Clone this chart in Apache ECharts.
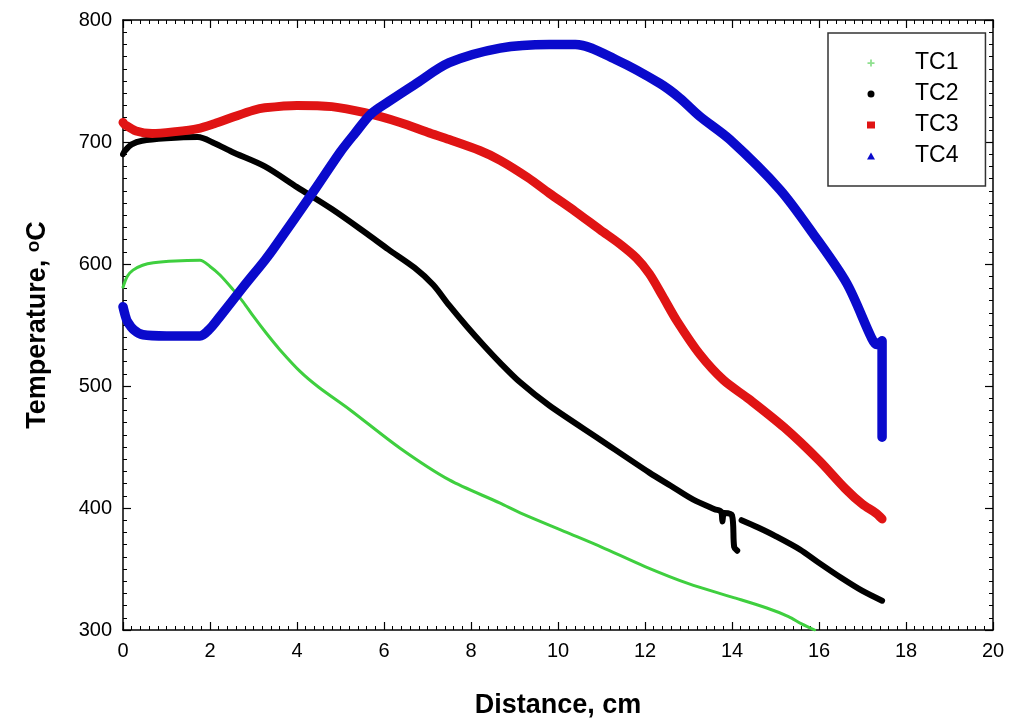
<!DOCTYPE html>
<html>
<head>
<meta charset="utf-8">
<script src="https://cdn.jsdelivr.net/npm/echarts@6/dist/echarts.min.js"></script>
<style>
  html, body { margin: 0; padding: 0; background: #fff; }
  #chart { width: 1020px; height: 727px; }
</style>
</head>
<body>
<div id="chart"></div>
<script>
// 数据：距离(cm) / 温度(°C)
var seriesNames = ['TC1', 'TC2', 'TC3', 'TC4'];
var seriesColors = ['#3fcf3f', '#000000', '#e01414', '#0a0acc'];

var tc1 = [[0, 581], [0.1, 590], [0.23, 595], [0.45, 599], [0.7, 601], [1.2, 602.5], [1.77, 603],
  [2.0, 598], [2.23, 591], [2.53, 579], [2.76, 569], [3.0, 557], [3.3, 543], [3.6, 530],
  [4.07, 512], [4.5, 499], [5.2, 481], [6.37, 449], [7.5, 423], [8.67, 404], [9.13, 396],
  [10.2, 380], [11.0, 368], [12.0, 352], [13.0, 338], [14.0, 327], [14.8, 318], [15.3, 311],
  [15.6, 305], [15.9, 300]];

var tc2 = [[0, 690], [0.05, 693], [0.2, 698], [0.44, 701], [1.0, 703], [1.72, 704], [2.1, 699],
  [2.5, 692], [3.26, 680], [4.0, 663], [4.8, 645], [5.56, 626], [6.1, 612], [6.7, 597],
  [7.13, 583], [7.5, 566], [7.9, 549], [8.3, 533], [8.67, 519], [9.13, 503], [9.8, 484],
  [10.97, 456], [12.1, 429], [12.6, 418], [13.1, 407], [13.6, 399], [13.75, 397], [13.78, 389],
  [13.82, 396], [14.0, 394], [14.05, 368], [14.12, 365], ['-', '-'],
  [14.22, 390], [14.6, 384], [15.0, 377], [15.56, 366], [16.0, 355], [16.5, 343],
  [17.0, 332], [17.45, 324]];

var tc3 = [[0, 716], [0.05, 714], [0.3, 709], [0.67, 707], [1.2, 708.5], [1.72, 711], [2.1, 715],
  [2.5, 720], [3.0, 726], [3.26, 728], [4.0, 730], [4.8, 729], [5.56, 724], [6.37, 716],
  [7.0, 708], [7.5, 702], [8.2, 693], [8.67, 685], [9.3, 671], [9.8, 658], [10.4, 643],
  [10.97, 628], [11.4, 617], [11.8, 605], [12.1, 592], [12.4, 574], [12.74, 553], [13.26, 526],
  [13.8, 505], [14.4, 489], [15.2, 466], [16.0, 439], [16.6, 416], [17.0, 403], [17.3, 396],
  [17.45, 391]];

var tc4 = [[0, 565], [0.05, 558], [0.1, 553], [0.25, 546], [0.46, 542], [1.0, 541], [1.77, 541],
  [2.0, 547], [2.23, 557], [2.76, 581], [3.26, 603], [3.45, 612], [4.41, 661], [5.0, 692],
  [5.33, 707], [5.7, 723], [6.1, 733], [6.7, 747], [7.5, 765], [8.67, 777], [9.8, 780],
  [10.4, 780], [11.36, 767], [12.34, 748], [12.8, 736], [13.26, 721], [13.95, 702], [15.1, 661],
  [15.86, 625], [16.64, 584], [17.2, 540], [17.32, 534], [17.45, 537], [17.45, 458]];

var seriesData = [tc1, tc2, tc3, tc4];
var lineWidths = [3, 6, 9, 9.5];

var xTicks = { min: 0, max: 20, interval: 2 };
var yTicks = { min: 300, max: 800, interval: 100 };

var font = 'Arial, "Liberation Sans", sans-serif';

//坐标轴公共样式
function axisCommon(showLabel) {
    return {
        axisLine: { show: true, onZero: false, lineStyle: { color: '#000', width: 1.5 } },
        axisTick: { show: true, inside: true, length: 8, lineStyle: { color: '#000', width: 1.2 } },
        minorTick: { show: true, splitNumber: 10, length: 4, lineStyle: { color: '#000', width: 1 } },
        splitLine: { show: false },
        axisLabel: { show: showLabel, color: '#000', fontSize: 20, fontFamily: font, margin: 11 }
    };
}

var chart = echarts.init(document.getElementById('chart'));

var option = {
    backgroundColor: '#fff',
    animation: false,
    grid: { left: 123, right: 27, top: 20, bottom: 97 },
    legend: {
        orient: 'vertical',
        left: 828,
        top: 33,
        padding: [17, 27, 17, 39],
        itemGap: 5,
        itemWidth: 8,
        itemHeight: 7,
        borderColor: '#333',
        borderWidth: 1.5,
        textStyle: { fontSize: 23, color: '#000', fontFamily: font, lineHeight: 26, padding: [0, 0, 0, 35] },
        data: [
            { name: 'TC1', icon: 'path://M3,0H5V3H8V5H5V8H3V5H0V3H3Z', itemStyle: { color: '#8ee08e' } },
            { name: 'TC2', icon: 'circle' },
            { name: 'TC3', icon: 'rect' },
            { name: 'TC4', icon: 'triangle' }
        ]
    },
    xAxis: [
        Object.assign({
            type: 'value', position: 'bottom',
            min: xTicks.min, max: xTicks.max, interval: xTicks.interval,
            name: 'Distance, cm', nameLocation: 'middle', nameGap: 62,
            nameTextStyle: { fontSize: 27, fontWeight: 'bold', color: '#000', fontFamily: font }
        }, axisCommon(true)),
        Object.assign({
            type: 'value', position: 'top',
            min: xTicks.min, max: xTicks.max, interval: xTicks.interval
        }, axisCommon(false))
    ],
    yAxis: [
        Object.assign({
            type: 'value', position: 'left',
            min: yTicks.min, max: yTicks.max, interval: yTicks.interval,
            name: '{t|Temperature, }{s|o}{t|C}', nameLocation: 'middle', nameGap: 72,
            nameTextStyle: {
                color: '#000', fontFamily: font,
                rich: {
                    t: { fontSize: 27, fontWeight: 'bold', color: '#000', fontFamily: font },
                    s: { fontSize: 19, fontWeight: 'bold', color: '#000', fontFamily: font, verticalAlign: 'top' }
                }
            }
        }, axisCommon(true)),
        Object.assign({
            type: 'value', position: 'right',
            min: yTicks.min, max: yTicks.max, interval: yTicks.interval
        }, axisCommon(false))
    ],
    series: seriesNames.map(function (name, i) {
        return {
            name: name,
            type: 'line',
            xAxisIndex: 0,
            yAxisIndex: 0,
            data: seriesData[i],
            showSymbol: false,
            smooth: 0.3,
            connectNulls: false,
            itemStyle: { color: seriesColors[i] },
            lineStyle: { color: seriesColors[i], width: lineWidths[i], cap: 'round', join: 'round' },
            z: 2 + i
        };
    })
};

chart.setOption(option);
</script>
</body>
</html>
